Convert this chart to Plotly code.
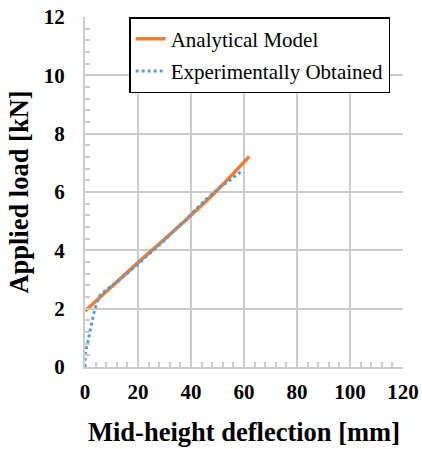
import plotly.graph_objects as go

# Analytical model
ana_x = [0, 10, 20, 30, 40, 50, 62]
ana_y = [1.92, 2.75, 3.58, 4.38, 5.2, 6.07, 7.22]

# Experimentally obtained
exp_x = [0, 0.05, 0.375, 1, 1.6, 2.25, 2.9, 3.6, 4.5, 5.75, 8.1, 10.6, 13.1, 15.6, 17.9,
         20.25, 22.5, 24.75, 27, 29.4, 31.6, 33.9, 36.1, 38.4, 40.5, 42.75, 45, 47.25,
         49.6, 52, 54.6, 57, 59.4]
exp_y = [0, 0.29, 0.57, 0.83, 1.1, 1.39, 1.66, 1.94, 2.2, 2.46, 2.65, 2.82, 3.0, 3.18, 3.37,
         3.54, 3.74, 3.92, 4.1, 4.29, 4.49, 4.69, 4.89, 5.07, 5.28, 5.49, 5.69, 5.87,
         6.06, 6.23, 6.4, 6.57, 6.74]

x_ticks = [0, 20, 40, 60, 80, 100, 120]
y_ticks = [0, 2, 4, 6, 8, 10, 12]

FONT = "Liberation Serif"
GRID = "#CCCCCC"

fig = go.Figure()
fig.add_trace(go.Scatter(x=ana_x, y=ana_y, mode="lines", name="Analytical Model",
                         legendgroup="a",
                         line=dict(color="#ED7D31", width=3.5, shape="spline")))
fig.add_trace(go.Scatter(x=exp_x, y=exp_y, mode="lines", name="Experimentally Obtained",
                         legendgroup="b",
                         line=dict(color="#5B9BD5", width=3, dash="dot", shape="spline")))

fig.update_layout(
    width=422, height=449,
    margin=dict(l=85, r=19, t=17, b=82),
    paper_bgcolor="white", plot_bgcolor="white",
    font=dict(family=FONT, color="black"),
    showlegend=True,
    legend=dict(x=0.139, y=1.0, xanchor="left", yanchor="top",
                bgcolor="white", bordercolor="black", borderwidth=1.5,
                font=dict(family=FONT, size=21, color="black"),
                itemwidth=30, traceorder="grouped", tracegroupgap=2),
    xaxis=dict(range=[0, 120], tickvals=x_ticks, ticktext=[str(v) for v in x_ticks],
               automargin=False,
               showgrid=True, gridcolor=GRID, gridwidth=2,
               showline=True, linecolor=GRID, linewidth=2,
               ticks="inside", ticklen=5, tickcolor=GRID, tickwidth=1.5,
               minor=dict(dtick=4, ticks="inside", ticklen=5, tickcolor=GRID, tickwidth=1.5,
                          showgrid=False),
               zeroline=False, ticklabelstandoff=5,
               tickfont=dict(family=FONT, size=21, color="black", weight="bold"),
               title=dict(text="<b>Mid-height deflection [mm]</b>", standoff=19,
                          font=dict(family=FONT, size=26.5, color="black"))),
    yaxis=dict(range=[0, 12], tickvals=y_ticks, ticktext=[str(v) for v in y_ticks],
               automargin=False,
               showgrid=True, gridcolor=GRID, gridwidth=2,
               showline=True, linecolor=GRID, linewidth=2,
               ticks="inside", ticklen=5, tickcolor=GRID, tickwidth=1.5,
               minor=dict(dtick=0.4, ticks="inside", ticklen=5, tickcolor=GRID, tickwidth=1.5,
                          showgrid=False),
               zeroline=False, ticklabelstandoff=14,
               tickfont=dict(family=FONT, size=21, color="black", weight="bold"),
               title=dict(text="<b>Applied load [kN]</b>", standoff=8,
                          font=dict(family=FONT, size=26.5, color="black"))),
)

fig.write_html("out.html")
